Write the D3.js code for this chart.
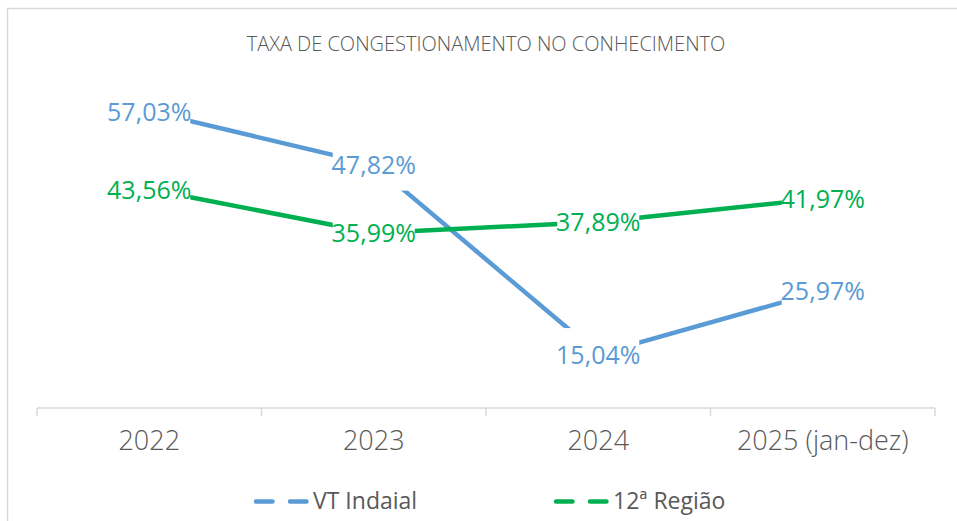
<!DOCTYPE html>
<html>
<head>
<meta charset="utf-8">
<script src="https://cdn.jsdelivr.net/npm/d3@7"></script>
<style>
  body { margin: 0; background: #fff; }
  text { font-family: "Open Sans", "Noto Sans", sans-serif; }
</style>
</head>
<body>
<div id="chart"></div>
<script>
// data
const categories = ["2022", "2023", "2024", "2025 (jan-dez)"];
const vtIndaial = [57.03, 47.82, 15.04, 25.97];
const regiao12 = [43.56, 35.99, 37.89, 41.97];
const seriesNames = ["VT Indaial", "12ª Região"];
const seriesColors = ["#5B9BD5", "#00B050"];

const width = 957, height = 521;

const svg = d3.select("#chart").append("svg")
    .attr("width", width)
    .attr("height", height);

// chart area border
svg.append("rect")
    .attr("x", 7.5).attr("y", 8.5)
    .attr("width", 1000).attr("height", 600)
    .attr("fill", "none")
    .attr("stroke", "#D9D9D9")
    .attr("stroke-width", 1.5);

// title
svg.append("text")
    .attr("x", 486).attr("y", 51)
    .attr("text-anchor", "middle")
    .attr("fill", "#595959")
    .style("font-size", "20px")
    .style("font-weight", 300)
    .text("TAXA DE CONGESTIONAMENTO NO CONHECIMENTO");

const x = d3.scaleBand().domain(categories).range([37, 935]);
const y = d3.scaleLinear().domain([0, 60]).range([441, 94.2]);

// category axis
const axisY = 408;
svg.append("line")
    .attr("x1", 37).attr("x2", 935)
    .attr("y1", axisY).attr("y2", axisY)
    .attr("stroke", "#D9D9D9").attr("stroke-width", 1.5);

const tickPos = categories.map(c => x(c)).concat([x.range()[1]]);
svg.selectAll(".tick")
    .data(tickPos)
    .enter().append("line")
    .attr("x1", d => d).attr("x2", d => d)
    .attr("y1", axisY).attr("y2", axisY + 8)
    .attr("stroke", "#D9D9D9").attr("stroke-width", 1.5);

svg.selectAll(".cat")
    .data(categories)
    .enter().append("text")
    .attr("x", d => x(d) + x.bandwidth() / 2)
    .attr("y", 450)
    .attr("text-anchor", "middle")
    .attr("fill", "#595959")
    .style("font-size", "27px")
    .style("font-weight", 300)
    .text(d => d);

const series = [vtIndaial, regiao12];

const line = d3.line()
    .x((d, i) => x(categories[i]) + x.bandwidth() / 2)
    .y(d => y(d));

series.forEach((s, k) => {
    svg.append("path")
        .datum(s)
        .attr("fill", "none")
        .attr("stroke", seriesColors[k])
        .attr("stroke-width", 4.5)
        .attr("stroke-linejoin", "round")
        .attr("d", line);
});

// data labels with white fill boxes
series.forEach((s, k) => {
    svg.append("g").selectAll("rect")
        .data(s)
        .enter().append("rect")
        .attr("x", (d, i) => x(categories[i]) + x.bandwidth() / 2 - 41)
        .attr("y", d => y(d) - 26)
        .attr("width", 82)
        .attr("height", 52)
        .attr("fill", "#fff");
});
series.forEach((s, k) => {
    svg.append("g").selectAll("text")
        .data(s)
        .enter().append("text")
        .attr("x", (d, i) => x(categories[i]) + x.bandwidth() / 2)
        .attr("y", d => y(d) + 9.5)
        .attr("text-anchor", "middle")
        .attr("fill", seriesColors[k])
        .style("font-size", "25px")
        .text(d => d.toFixed(2).replace(".", ",") + "%");
});

// legend
const legendX = [256, 556];
seriesNames.forEach((name, k) => {
    svg.append("line")
        .attr("x1", legendX[k]).attr("x2", legendX[k] + 52)
        .attr("y1", 501.5).attr("y2", 501.5)
        .attr("stroke", seriesColors[k])
        .attr("stroke-width", 4.5)
        .attr("stroke-linecap", "round")
        .attr("stroke-dasharray", "16.5,17.5");
    svg.append("text")
        .attr("x", legendX[k] + 57)
        .attr("y", 509)
        .attr("fill", "#595959")
        .style("font-size", "23px")
        .text(name);
});
</script>
</body>
</html>
